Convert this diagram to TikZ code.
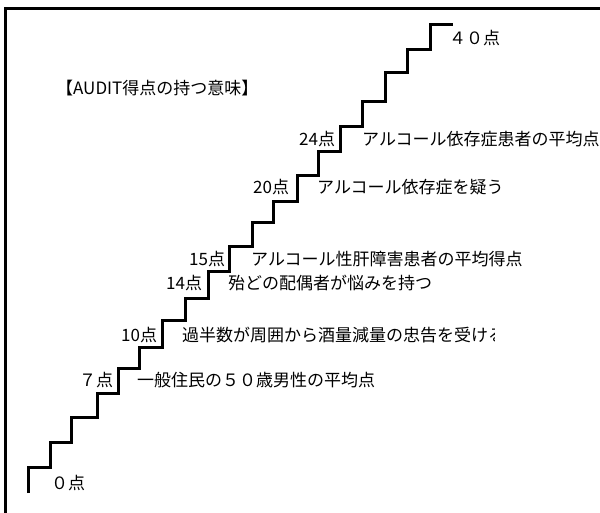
\documentclass[tikz,border=0pt]{standalone}
\usepackage{fontspec}
\newfontfamily\jp{Noto Sans CJK JP}
\begin{document}
\begin{tikzpicture}[x=1pt,y=-1pt,
  lbl/.style={font=\jp\fontsize{17}{20}\selectfont, inner sep=0pt, anchor=base west},
  stair/.style={line width=3pt, line join=miter, line cap=butt},
  frame/.style={line width=3pt, line join=miter}]
\useasboundingbox (0,0) rectangle (600,513);
\fill[white] (0,0) rectangle (600,513);
% frame
\draw[frame] (5.5,530) -- (5.5,8.5) -- (620,8.5);
% staircase
\draw[stair] (28,493) -- (28,467) -- (50,467) -- (50,442) -- (71,442) -- (71,417)
  -- (97,417) -- (97,393) -- (118,393) -- (118,368) -- (139,368) -- (139,347)
  -- (162,347) -- (162,320) -- (185,320) -- (185,298) -- (208,298) -- (208,272)
  -- (229,272) -- (229,247) -- (252,247) -- (252,223) -- (273,223) -- (273,202)
  -- (297,202) -- (297,176) -- (318,176) -- (318,152) -- (340,152) -- (340,127)
  -- (362,127) -- (362,102) -- (385,102) -- (385,73) -- (407,73) -- (407,50)
  -- (430,50) -- (430,25) -- (453,25);
% labels
\node[lbl] (title) at (56,94.5) {【AUDIT得点の持つ意味】};
\node[lbl] (p40) at (449,44.5) {４０点};
\node[lbl] (p24) at (299,145.5) {24点};
\node[lbl] (t24) at (362,145.5) {アルコール依存症患者の平均点};
\node[lbl] (p20) at (253,193.5) {20点};
\node[lbl] (t20) at (317,193.5) {アルコール依存症を疑う};
\node[lbl] (p15) at (189,265.5) {15点};
\node[lbl] (t15) at (251,265.5) {アルコール性肝障害患者の平均得点};
\node[lbl] (p14) at (166,289.5) {14点};
\node[lbl] (t14) at (228,289.5) {殆どの配偶者が悩みを持つ};
\node[lbl] (p10) at (121,341.5) {10点};
\begin{scope}
\clip (0,0) rectangle (494,513);
\node[lbl] (t10) at (182,341.5) {過半数が周囲から酒量減量の忠告を受ける};
\end{scope}
\node[lbl] (p7) at (79,386.5) {７点};
\node[lbl] (t7) at (137,386.5) {一般住民の５０歳男性の平均点};
\node[lbl] (p0) at (51,489.5) {０点};
\end{tikzpicture}
\end{document}
